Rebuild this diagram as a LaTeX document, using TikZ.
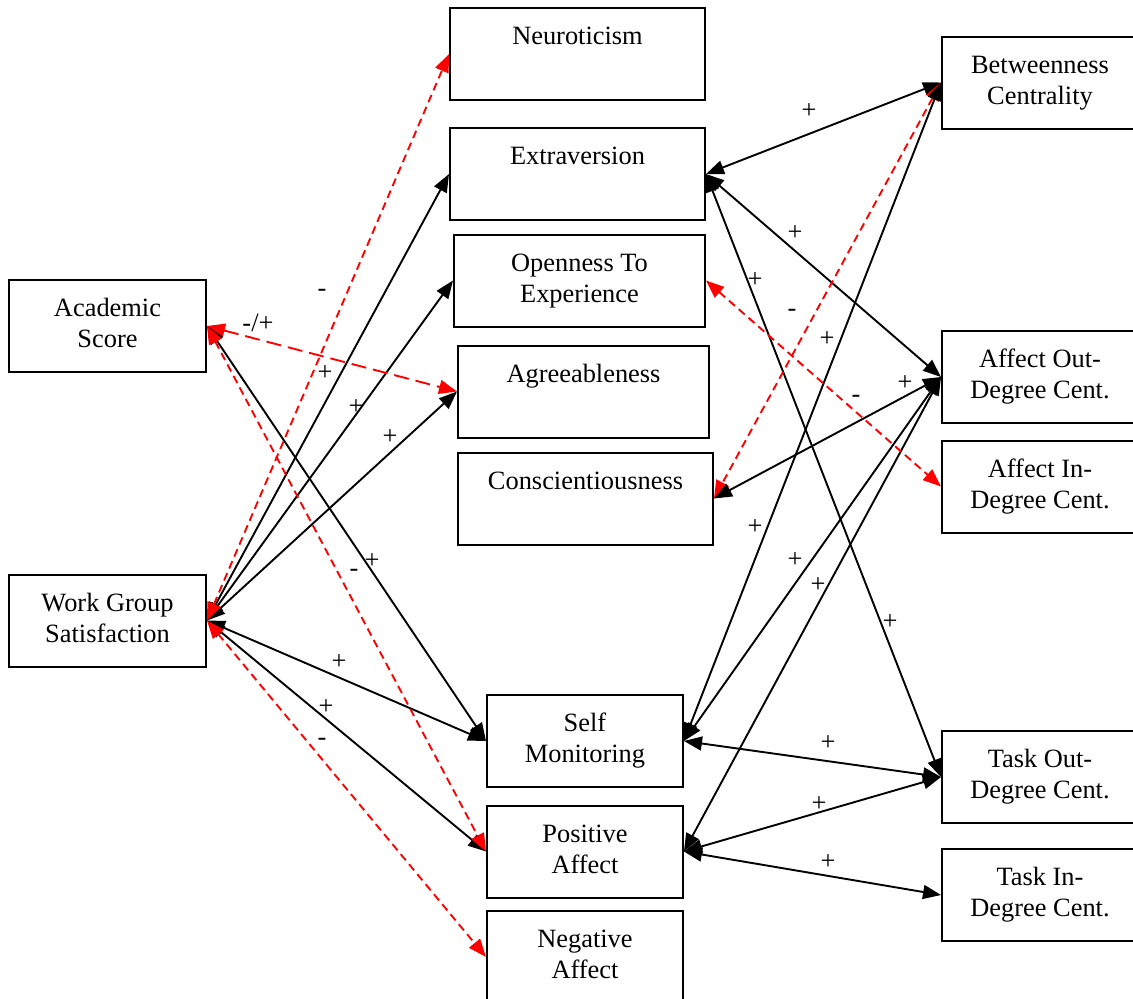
\documentclass[tikz,border=0pt]{standalone}
\usepackage{fontspec}
\setmainfont{Liberation Serif}
\usetikzlibrary{arrows.meta}
\newcommand\boxfont{\fontsize{26.4}{31}\selectfont}
\begin{document}
\begin{tikzpicture}[x=1pt,y=-1pt,
	box/.style={draw,line width=2pt,minimum width=#1,minimum height=92pt,inner sep=0pt,align=center,font=\boxfont},
	box/.default=196pt,
	link/.style={line width=1.9pt,{Triangle[length=18pt,width=14pt]}-{Triangle[length=18pt,width=14pt]}},
	neg/.style={link,red,dash pattern=on 8pt off 5pt},
	sign/.style={inner sep=0pt,font=\boxfont}]
	\useasboundingbox (0,0) rectangle (1133,999);
	\clip (0,0) rectangle (1133,999);
	% left column
	\node[box=197pt] (AS) at (107.5,326) {\strut Academic\\\strut Score};
	\node[box=197pt] (WGS) at (107.5,620.5) {\strut Work Group\\\strut Satisfaction};
	% middle column
	\node[box=255pt] (Neur) at (577.5,54) {\strut Neuroticism\\\strut};
	\node[box=255pt] (Extra) at (577.5,174) {\strut Extraversion\\\strut};
	\node[box=251pt] (Open) at (579.5,280.5) {\strut Openness To\\\strut Experience};
	\node[box=251pt] (Agree) at (583.5,391.5) {\strut Agreeableness\\\strut};
	\node[box=255pt] (Consc) at (585.5,498.5) {\strut Conscientiousness\\\strut};
	\node[box] (SM) at (585,741) {\strut Self\\\strut Monitoring};
	\node[box] (PA) at (585,851.5) {\strut Positive\\\strut Affect};
	\node[box] (NA) at (585,957) {\strut Negative\\\strut Affect};
	% right column
	\node[box] (Betw) at (1040,82.5) {\strut Betweenness\\\strut Centrality};
	\node[box] (AOut) at (1040,377) {\strut Affect Out-\\\strut Degree Cent.};
	\node[box] (AIn) at (1040,486.5) {\strut Affect In-\\\strut Degree Cent.};
	\node[box] (TOut) at (1040,777) {\strut Task Out-\\\strut Degree Cent.};
	\node[box] (TIn) at (1040,895) {\strut Task In-\\\strut Degree Cent.};
	% links from the left
	\draw[link] (WGS.east) -- (Extra.west);
	\draw[link] (WGS.east) -- (Open.west);
	\draw[link] (WGS.east) -- (Agree.west);
	\draw[link] (WGS.east) -- (SM.west);
	\draw[link] (WGS.east) -- (PA.west);
	\draw[neg] (WGS.east) -- (Neur.west);
	\draw[neg] (WGS.east) -- (NA.west);
	\draw[neg,dash pattern=on 15pt off 7pt] (AS.east) -- (Agree.west);
	\draw[link] (AS.east) -- (SM.west);
	\draw[neg] (AS.east) -- (PA.west);
	% links to the right
	\draw[link] (Extra.east) -- (Betw.west);
	\draw[link] (Extra.east) -- (AOut.west);
	\draw[link] (Extra.east) -- (TOut.west);
	\draw[neg] (Betw.west) -- (Consc.east);
	\draw[link] (Betw.west) -- (SM.east);
	\draw[link] (AOut.west) -- (Consc.east);
	\draw[link] (AOut.west) -- (SM.east);
	\draw[link] (AOut.west) -- (PA.east);
	\draw[neg] (Open.east) -- (AIn.west);
	\draw[link] (SM.east) -- (TOut.west);
	\draw[link] (PA.east) -- (TOut.west);
	\draw[link] (PA.east) -- (TIn.west);
	% signs
	\node[sign] (mixed) at (258,323) {-/+};
	\foreach \x/\y/\s [count=\i] in {325/373/+,356/407/+,390/437/+,339/662/+,326/707/+,
		322/293/-,322/742/-,372/561/+,354/573/-,809/111/+,795/233/+,755/280/+,
		792/313/-,827/339/+,905/383/+,856/399/-,755/527/+,795/560/+,818/585/+,
		890/622/+,828/743/+,819/804/+,828/862/+}
		\node[sign] (sign\i) at (\x,\y) {\s};
\end{tikzpicture}
\end{document}
